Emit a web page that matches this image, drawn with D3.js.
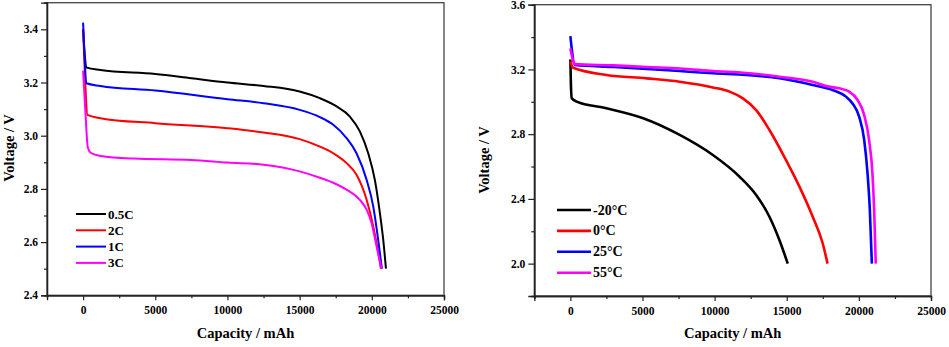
<!DOCTYPE html>
<html>
<head>
<meta charset="utf-8">
<script src="https://cdn.jsdelivr.net/npm/d3@7"></script>
<style>
  body { margin: 0; background: #fff; }
  svg text { font-family: "Liberation Serif", "Times New Roman", serif; font-weight: bold; fill: #000; }
</style>
</head>
<body>
<script>
// discharge at different rates (capacity mAh, voltage V)
var rate05 = [[0,3.40],[120,3.30],[250,3.256],[1200,3.247],[5000,3.232],[7500,3.216],[10000,3.20],[12500,3.187],[15000,3.166],[16400,3.141],[17560,3.11],[18480,3.072],[19170,3.016],[19750,2.934],[20210,2.834],[20560,2.709],[20790,2.609],[20980,2.50]];
var rate2  = [[0,3.40],[150,3.20],[300,3.078],[1200,3.066],[5000,3.047],[10000,3.028],[12500,3.012],[15000,2.987],[16400,2.959],[17330,2.934],[18250,2.897],[18940,2.853],[19640,2.759],[20100,2.659],[20450,2.559],[20630,2.50]];
var rate1  = [[0,3.425],[100,3.30],[220,3.197],[1200,3.187],[5000,3.170],[10000,3.137],[12500,3.122],[15000,3.097],[16400,3.070],[17330,3.041],[18250,2.991],[18940,2.934],[19640,2.834],[20100,2.734],[20440,2.609],[20700,2.50]];
var rate3  = [[0,3.244],[150,3.10],[330,2.955],[550,2.935],[1200,2.924],[3500,2.914],[7500,2.909],[10000,2.899],[12500,2.891],[15000,2.866],[16400,2.842],[17330,2.823],[18250,2.797],[19170,2.759],[19640,2.722],[19980,2.672],[20330,2.584],[20670,2.50]];

// discharge at different temperatures
var tempM20 = [[0,3.262],[40,3.10],[100,3.021],[440,3.001],[2500,2.96],[5050,2.898],[7580,2.795],[9880,2.671],[11730,2.537],[12880,2.424],[13800,2.29],[14490,2.146],[15070,2.00]];
var temp0   = [[0,3.25],[200,3.21],[2500,3.166],[5280,3.145],[7580,3.124],[9880,3.089],[11040,3.063],[11960,3.021],[12880,2.949],[13800,2.826],[14950,2.64],[15880,2.476],[16800,2.29],[17490,2.126],[17830,2.00]];
var temp25  = [[0,3.406],[320,3.227],[3000,3.215],[5300,3.203],[7600,3.19],[9900,3.176],[12200,3.166],[14500,3.145],[16800,3.104],[18180,3.073],[19100,3.032],[19560,2.99],[20020,2.908],[20370,2.764],[20600,2.558],[20760,2.332],[20900,2.00]];
var temp55  = [[0,3.33],[320,3.233],[3000,3.225],[5300,3.215],[7600,3.206],[9900,3.19],[12200,3.178],[14500,3.155],[16800,3.124],[17720,3.098],[18640,3.083],[19330,3.063],[19910,3.011],[20370,2.918],[20710,2.764],[20940,2.558],[21060,2.332],[21170,2.00]];

var rateLabels = ["0.5C", "2C", "1C", "3C"];
var tempLabels = ["-20°C", "0°C", "25°C", "55°C"];
var colors = ["#000000", "#ff0000", "#0000ff", "#ff00ff"];

var xTicks = [0, 5000, 10000, 15000, 20000, 25000];
var xMinor = [-2500, 2500, 7500, 12500, 17500, 22500];
var rateYTicks = [2.4, 2.6, 2.8, 3.0, 3.2, 3.4];
var rateYMinor = [2.5, 2.7, 2.9, 3.1, 3.3, 3.5];
var tempYTicks = [2.0, 2.4, 2.8, 3.2, 3.6];
var tempYMinor = [1.8, 2.2, 2.6, 3.0, 3.4];

var svg = d3.select("body").append("svg")
  .attr("width", 949)
  .attr("height", 347);

function panel(p) {
  var x = d3.scaleLinear().domain([-2500, 25000]).range([p.left, p.right]);
  var y = d3.scaleLinear().domain(p.yDomain).range([p.bottom, p.top]);
  var g = svg.append("g");

  // frame
  g.append("rect")
   .attr("x", p.left).attr("y", p.top)
   .attr("width", p.right - p.left).attr("height", p.bottom - p.top)
   .attr("fill", "none").attr("stroke", "#444").attr("stroke-width", 1.3);

  var line = d3.line()
    .x(function(d) { return x(d[0]); })
    .y(function(d) { return y(d[1]); })
    .curve(d3.curveMonotoneX);

  p.series.forEach(function(s, i) {
    g.append("path")
     .attr("d", line(s))
     .attr("fill", "none")
     .attr("stroke", colors[i])
     .attr("stroke-width", p.lw)
     .attr("stroke-linejoin", "round");
  });

  // axes
  g.append("g").attr("transform", "translate(0," + p.bottom + ")")
    .call(d3.axisBottom(x).tickValues(xTicks).tickSize(5).tickPadding(6).tickFormat(d3.format("d")));
  g.append("g").attr("transform", "translate(0," + p.bottom + ")")
    .call(d3.axisBottom(x).tickValues(xMinor).tickSize(3).tickFormat(""));
  g.append("g").attr("transform", "translate(" + p.left + ",0)")
    .call(d3.axisLeft(y).tickValues(p.yTicks).tickSize(6).tickPadding(3).tickFormat(d3.format(".1f")));
  g.append("g").attr("transform", "translate(" + p.left + ",0)")
    .call(d3.axisLeft(y).tickValues(p.yMinor).tickSize(3).tickFormat(""));

  g.selectAll(".domain").attr("stroke", "#222").attr("stroke-width", 1.3);
  g.selectAll(".tick line").attr("stroke", "#222").attr("stroke-width", 1.2);
  g.selectAll(".tick text").style("font-size", "11.5px").style("font-family", "Liberation Serif").style("font-weight", "bold").attr("fill", "#000");

  g.append("text")
   .attr("x", (p.left + p.right) / 2)
   .attr("y", 338)
   .attr("text-anchor", "middle")
   .style("font-size", "14.5px")
   .text("Capacity / mAh");

  g.append("text")
   .attr("transform", "translate(" + p.ylabX + "," + p.ylabY + ") rotate(-90)")
   .attr("text-anchor", "middle")
   .style("font-size", "14.5px")
   .text("Voltage / V");

  // legend
  p.labels.forEach(function(lab, i) {
    var ly = p.legY + i * p.legStep;
    g.append("line")
     .attr("x1", p.legX).attr("x2", p.legX + p.legLen)
     .attr("y1", ly).attr("y2", ly)
     .attr("stroke", colors[i]).attr("stroke-width", p.lw);
    g.append("text")
     .attr("x", p.legX + p.legLen + 2)
     .attr("y", ly + 4.5)
     .style("font-size", p.legFont)
     .text(lab);
  });
}

panel({
  left: 47, right: 444, top: 2.7, bottom: 295.3,
  yDomain: [2.4, 3.5], yTicks: rateYTicks, yMinor: rateYMinor,
  series: [rate05, rate2, rate1, rate3], labels: rateLabels, lw: 2,
  legX: 76, legLen: 30, legY: 214, legStep: 16.3, legFont: "13px",
  ylabX: 14, ylabY: 148
});

panel({
  left: 534.3, right: 931, top: 4.7, bottom: 296,
  yDomain: [1.8, 3.6], yTicks: tempYTicks, yMinor: tempYMinor,
  series: [tempM20, temp0, temp25, temp55], labels: tempLabels, lw: 2.6,
  legX: 557, legLen: 34, legY: 210, legStep: 20.9, legFont: "14px",
  ylabX: 489, ylabY: 160
});
</script>
</body>
</html>
